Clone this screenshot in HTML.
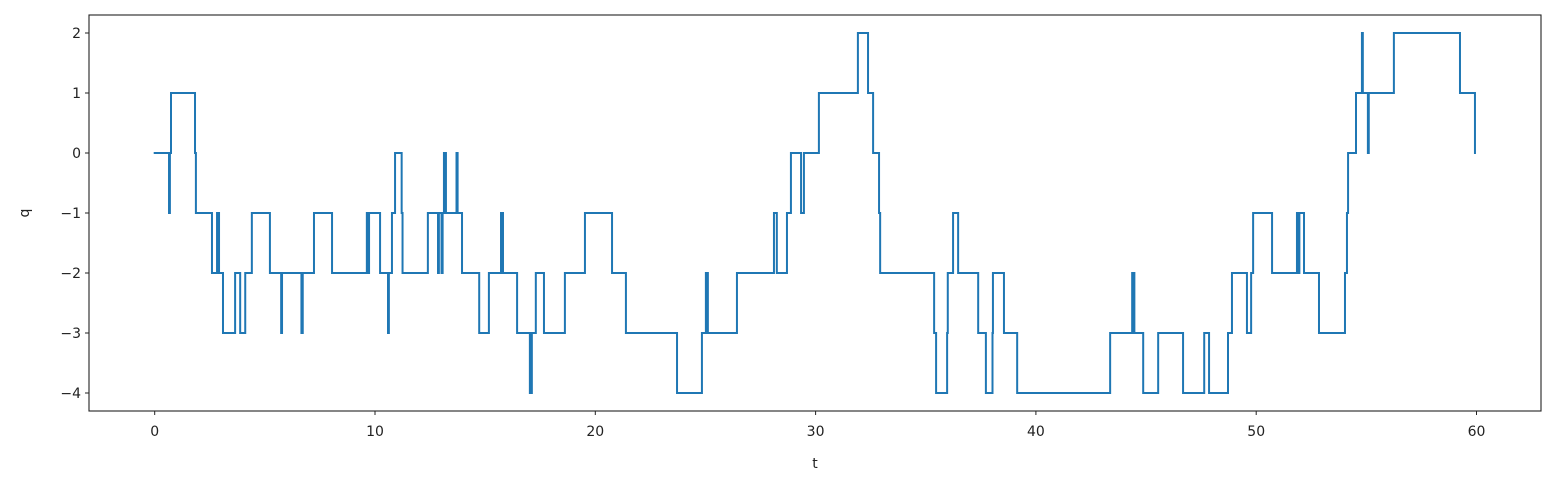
<!DOCTYPE html>
<html><head><meta charset="utf-8"><style>
body{margin:0;background:#fff;}
svg{display:block;font-family:"DejaVu Sans","Liberation Sans",sans-serif;}
</style></head><body>
<svg id="chart" width="1556" height="489"></svg>
<script>
const jumpTimes=[0,0.65,0.69,0.74,1.83,1.87,2.60,2.83,2.92,3.10,3.65,3.88,4.11,4.41,5.23,5.74,5.78,6.66,6.72,7.23,8.05,9.63,9.68,9.73,10.23,10.59,10.63,10.77,10.91,11.21,11.25,12.40,12.86,12.90,13.02,13.07,13.13,13.22,13.70,13.75,13.95,14.73,15.17,15.72,15.81,16.45,17.03,17.12,17.30,17.67,18.62,19.53,20.76,21.39,23.71,24.84,25.02,25.11,26.43,28.11,28.24,28.70,28.88,29.34,29.47,30.15,31.92,32.38,32.61,32.88,32.93,35.38,35.47,35.97,36.00,36.24,36.47,37.38,37.73,38.03,38.05,38.55,39.15,43.37,44.37,44.41,44.43,44.47,44.87,45.55,46.68,47.64,47.86,48.72,48.90,49.58,49.77,49.86,50.72,51.85,51.92,51.96,52.17,52.85,54.03,54.12,54.17,54.53,54.80,54.84,55.07,55.11,56.25,59.25,59.93];
const levels=[0,-1,0,1,0,-1,-2,-1,-2,-3,-2,-3,-2,-1,-2,-3,-2,-3,-2,-1,-2,-1,-2,-1,-2,-3,-2,-1,0,-1,-2,-1,-2,-1,-2,-1,0,-1,0,-1,-2,-3,-2,-1,-2,-3,-4,-3,-2,-3,-2,-1,-2,-3,-4,-3,-2,-3,-2,-1,-2,-1,0,-1,0,1,2,1,0,-1,-2,-3,-4,-3,-2,-1,-2,-3,-4,-3,-2,-3,-4,-3,-2,-3,-2,-3,-4,-3,-4,-3,-4,-3,-2,-3,-2,-1,-2,-1,-2,-1,-2,-3,-2,-1,0,1,2,1,0,1,2,1,0];
const xTicks=[0,10,20,30,40,50,60];
const yTicks=[2,1,0,-1,-2,-3,-4];
const yTickLabels=["2","1","0","\u22121","\u22122","\u22123","\u22124"];

const NS="http://www.w3.org/2000/svg";
const svg=document.getElementById('chart');
const L=89,R=1541,T=15,B=411;
const xs=t=>154.7+t*22.03;
const ys=v=>153+(-v)*60;
function mk(tag,attrs){const e=document.createElementNS(NS,tag);for(const k in attrs)e.setAttribute(k,attrs[k]);svg.appendChild(e);return e;}

let d='';
for(let i=0;i<jumpTimes.length;i++){
  const x=xs(jumpTimes[i]).toFixed(2);
  if(i===0){d+='M'+x+','+ys(levels[0]);}
  else{d+=' H'+x+' V'+ys(levels[i]);}
}
const line=mk('path',{d:d,fill:'none',stroke:'#1f77b4','stroke-width':2,'stroke-linejoin':'miter','stroke-linecap':'square'});



const frame=mk('rect',{x:L,y:T,width:R-L,height:B-T,fill:'none',stroke:'#222','stroke-width':1.1});



xTicks.forEach(v=>{
  const x=xs(v);
  const tk=mk('line',{x1:x,x2:x,y1:B,y2:B+4,stroke:'#222','stroke-width':1});
  
  
  const tx=mk('text',{x:x,y:B+25,'text-anchor':'middle','font-size':14,fill:'#222'});
  tx.textContent=String(v);
  
  
});
yTicks.forEach((v,i)=>{
  const y=ys(v);
  const tk=mk('line',{x1:L-4,x2:L,y1:y,y2:y,stroke:'#222','stroke-width':1});
  
  
  const tx=mk('text',{x:L-8,y:y+5,'text-anchor':'end','font-size':14,fill:'#222'});
  tx.textContent=yTickLabels[i];
  
  
});
const xl=mk('text',{x:(L+R)/2,y:468,'text-anchor':'middle','font-size':14,fill:'#222'});
xl.textContent='t';


const yl=mk('text',{x:29,y:213,'text-anchor':'middle','font-size':14,fill:'#222',transform:'rotate(-90 29 213)'});
yl.textContent='q';


</script>
</body></html>
